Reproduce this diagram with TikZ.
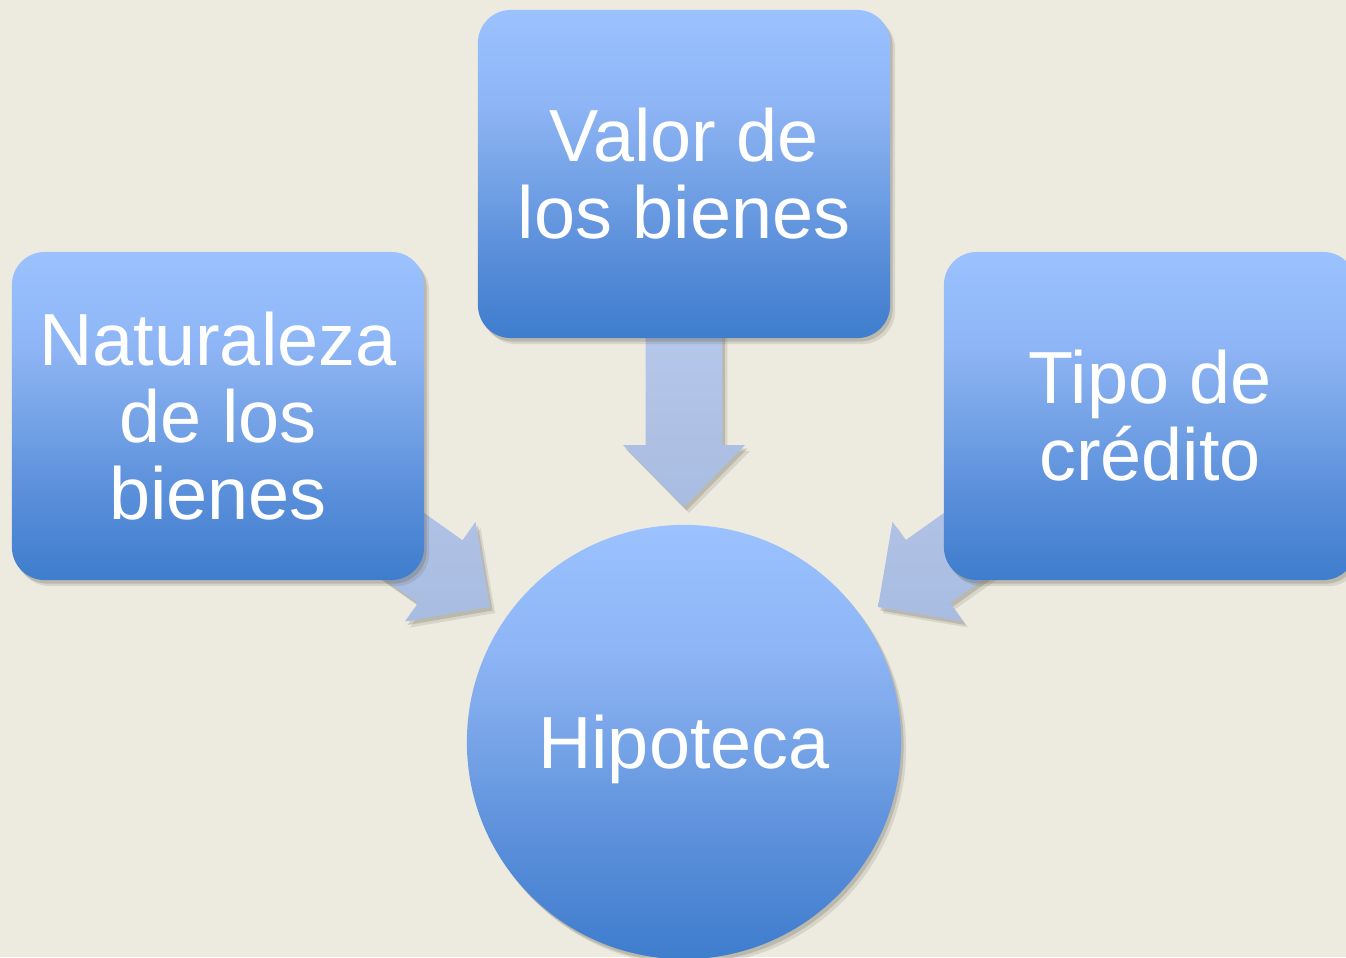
\documentclass[tikz,border=0pt]{standalone}
\usepackage{fontspec}
\setmainfont{Liberation Sans}
\usetikzlibrary{shadows}
\definecolor{bg}{RGB}{237,235,224}
\definecolor{boxtop}{RGB}{156,193,255}
\definecolor{boxc5}{RGB}{151,190,252}
\definecolor{boxc4}{RGB}{141,180,244}
\definecolor{boxc3}{RGB}{116,162,230}
\definecolor{boxc2}{RGB}{90,143,218}
\definecolor{boxc1}{RGB}{68,128,208}
\definecolor{boxbot}{RGB}{62,126,204}
\definecolor{arrowtop}{RGB}{184,201,235}
\definecolor{arrowbot}{RGB}{168,188,225}
\definecolor{shadowc}{RGB}{90,85,70}
\pgfdeclareverticalshading{boxshade}{100bp}{color(0bp)=(boxbot); color(25bp)=(boxbot);
  color(27.5bp)=(boxc1); color(38.5bp)=(boxc2); color(49bp)=(boxc3); color(60bp)=(boxc4);
  color(70.5bp)=(boxc5); color(75bp)=(boxtop); color(100bp)=(boxtop)}
\tikzset{
  softshadow/.style={
    general shadow={shadow xshift=0.025cm, shadow yshift=-0.035cm, opacity=0.22, fill=shadowc},
    general shadow={shadow xshift=0.05cm, shadow yshift=-0.06cm, opacity=0.15, fill=shadowc}},
  bluebox/.style={rectangle, rounded corners=0.33cm, minimum width=4.12cm, minimum height=3.28cm,
    shading=boxshade, draw=none, softshadow,
    text=white, align=center, inner sep=0pt, font=\fontsize{21pt}{21.9pt}\selectfont},
  bluecircle/.style={circle, minimum size=4.34cm, shading=boxshade, draw=none,
    softshadow, text=white, inner sep=0pt, text depth=0pt, font=\fontsize{21pt}{21.9pt}\selectfont},
  blockarrow/.style={top color=arrowtop, bottom color=arrowbot, draw=none, softshadow}
}
\begin{document}
\begin{tikzpicture}[x=0.01cm, y=-0.01cm]
\useasboundingbox (0,0) rectangle (1346,957);
\fill[bg] (0,0) rectangle (1346,957);
\clip (0,0) rectangle (1346,957);
% block arrows (behind the boxes)
\path[blockarrow] (645.7,300) -- (722.3,300) -- (722.3,445) -- (745,445) -- (684,507)
  -- (623,445) -- (645.7,445) -- cycle;
\path[blockarrow] (490,607) -- (475.5,521.9) -- (462.5,540.2) -- (258.2,395.7)
  -- (213.6,458.7) -- (417.9,603.2) -- (404.9,621.5) -- cycle;
\path[blockarrow] (878,607) -- (892.5,521.9) -- (905.5,540.2) -- (1109.8,395.7)
  -- (1154.4,458.7) -- (950.1,603.2) -- (963.1,621.5) -- cycle;
% boxes
\node[bluebox] (valor) at (684,174) {Valor de\\los bienes};
\node[bluebox] (natur) at (218,416) {Naturaleza\\de los\\bienes};
\node[bluebox] (tipo) at (1150,416) {Tipo de\\crédito};
\node[bluecircle] (hipo) at (684,742) {Hipoteca};
\end{tikzpicture}
\end{document}
